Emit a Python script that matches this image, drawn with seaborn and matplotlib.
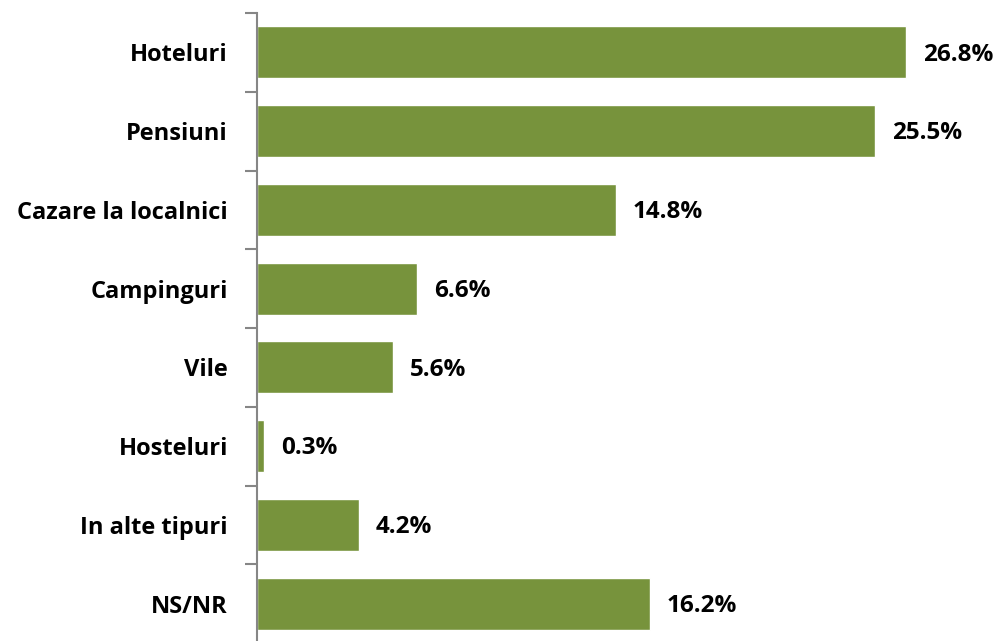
import numpy as np
import pandas as pd
import seaborn as sns
import matplotlib.pyplot as plt

# Chart data
categories = ['Hoteluri', 'Pensiuni', 'Cazare la localnici', 'Campinguri',
              'Vile', 'Hosteluri', 'In alte tipuri', 'NS/NR']
values = [26.8, 25.5, 14.8, 6.6, 5.6, 0.3, 4.2, 16.2]

df = pd.DataFrame({'tip': categories, 'pct': values})

sns.set_style('white')
plt.rcParams['font.family'] = ['Open Sans', 'DejaVu Sans']

fig = plt.figure(figsize=(10.01, 6.41), dpi=100)
ax = fig.add_axes([257 / 1001, -2 / 641, 744 / 1001, 630 / 641])

sns.barplot(data=df, x='pct', y='tip', orient='h', color='#77933C',
            saturation=1, width=0.66, ax=ax)

for i, v in enumerate(values):
    ax.text(v + 0.7, i + 0.03, f'{v:.1f}%', va='center', ha='left',
            fontsize=17.5, fontweight='bold', color='black')

ax.set_xlim(0, 30.7)
ax.set_ylim(len(categories) - 0.5, -0.5)
ax.set_xlabel('')
ax.set_ylabel('')
ax.set_xticks([])

# label ticks hidden, boundary ticks shown
ax.tick_params(axis='y', which='major', left=False, length=0, pad=21,
               labelsize=17, labelcolor='black')
for lbl in ax.get_yticklabels():
    lbl.set_fontweight('bold')
ax.set_yticks(np.arange(-0.5, len(categories), 1), minor=True)
ax.tick_params(axis='y', which='minor', left=True, length=9, width=1.5,
               color='#868686', direction='out')

for s in ['top', 'right', 'bottom']:
    ax.spines[s].set_visible(False)
ax.spines['left'].set_color('#868686')
ax.spines['left'].set_linewidth(1.5)

fig.savefig('out.png', dpi=100)
